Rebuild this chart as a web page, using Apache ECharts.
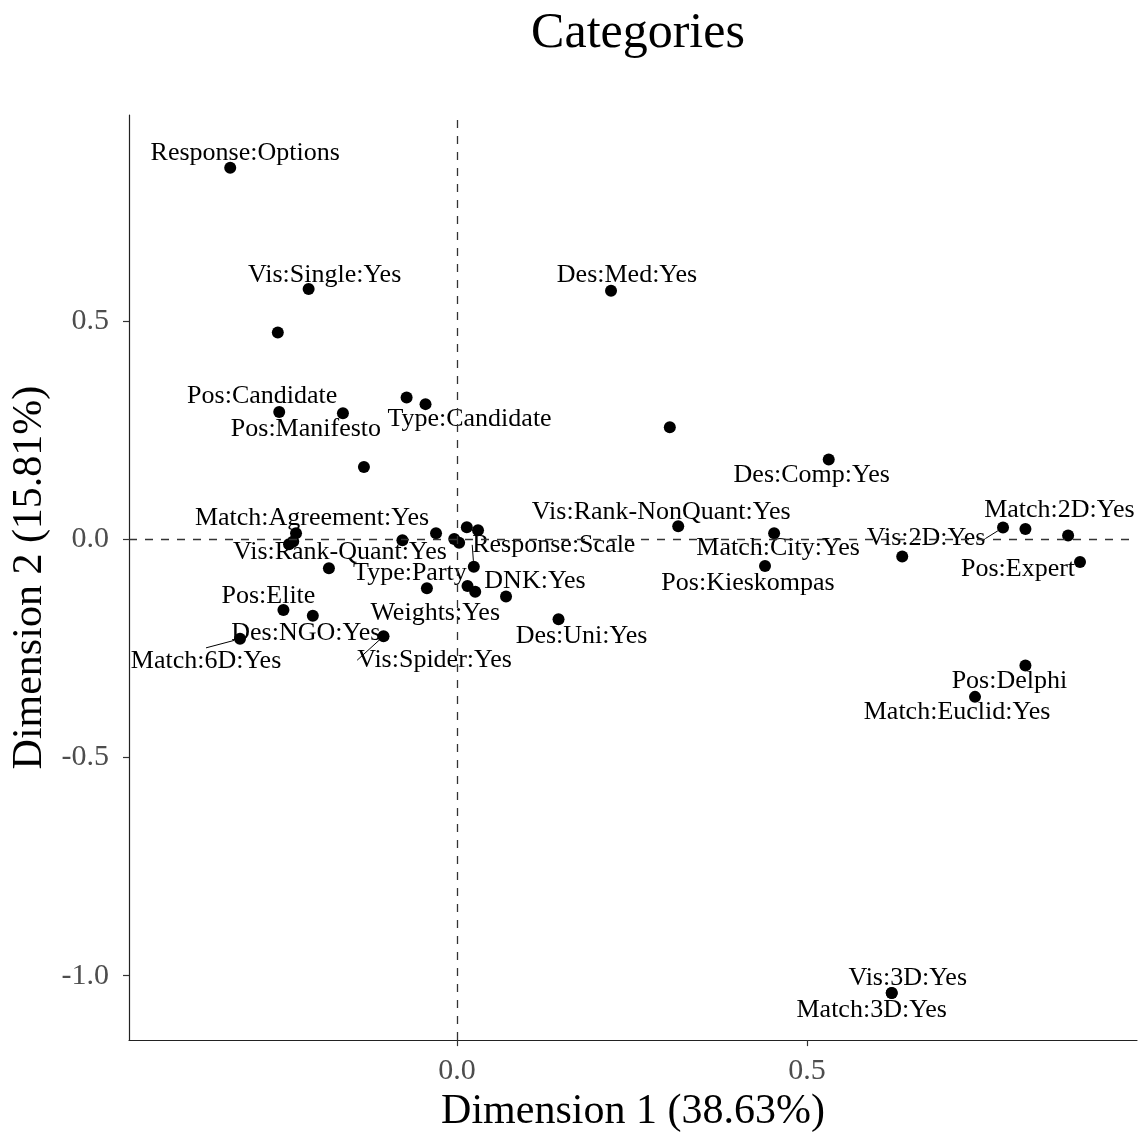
<!DOCTYPE html>
<html>
<head>
<meta charset="utf-8">
<script src="https://cdn.jsdelivr.net/npm/echarts@6/dist/echarts.min.js"></script>
<style>html,body{margin:0;padding:0;background:#fff;overflow:hidden}#c{width:1140px;height:1138px}</style>
</head>
<body>
<div id="c"></div>
<script>
// ---- data ----
const names = [
  "Response:Options","Vis:Single:Yes","","Des:Med:Yes","Pos:Candidate","Pos:Manifesto","","Type:Candidate","","",
  "Des:Comp:Yes","Vis:Rank-NonQuant:Yes","Match:City:Yes","Pos:Kieskompas","","Vis:2D:Yes","Match:2D:Yes","","Pos:Expert","Pos:Delphi",
  "Match:Euclid:Yes","Vis:3D:Yes","Match:3D:Yes","Match:Agreement:Yes","","","","","","",
  "","","Response:Scale","Type:Party","","Weights:Yes","DNK:Yes","Des:Uni:Yes","Vis:Rank-Quant:Yes","Pos:Elite",
  "Des:NGO:Yes","Vis:Spider:Yes","Match:6D:Yes"
];
const dim1 = [
  -0.324,-0.212,-0.256,0.220,-0.254,-0.163,-0.072,-0.045,-0.133,0.304,
  0.531,0.316,0.453,0.440,0.636,0.780,0.812,0.873,0.890,0.812,
  0.740,0.621,0.621,-0.230,-0.240,-0.234,-0.078,-0.030,-0.004,0.003,
  0.014,0.030,0.024,-0.043,0.015,0.026,0.070,0.145,-0.183,-0.248,
  -0.206,-0.105,-0.310
];
const dim2 = [
  0.852,0.574,0.474,0.570,0.292,0.289,0.325,0.310,0.166,0.257,
  0.183,0.030,0.014,-0.061,-0.039,0.027,0.024,0.009,-0.052,-0.289,
  -0.361,-1.040,-1.040,0.014,-0.011,-0.005,-0.002,0.014,0.001,-0.008,
  0.028,0.021,-0.063,-0.112,-0.107,-0.120,-0.131,-0.183,-0.066,-0.162,
  -0.175,-0.222,-0.228
];
const xTicks = [0, 0.5];
const yTicks = [-1, -0.5, 0, 0.5];
const titleText = "Categories";
const xTitle = "Dimension 1 (38.63%)";
const yTitle = "Dimension 2 (15.81%)";

// ---- label placement (pixel offsets from point to label centre) ----
const labelOffsets = {
  "Response:Options":[15,-14], "Vis:Single:Yes":[16,-14], "Des:Med:Yes":[16,-16],
  "Pos:Candidate":[-17,-16], "Pos:Manifesto":[-37,16], "Type:Candidate":[44,15],
  "Des:Comp:Yes":[-17,16], "Match:Agreement:Yes":[16,-15], "Vis:Rank-NonQuant:Yes":[-17,-14],
  "Match:City:Yes":[4,15], "Vis:2D:Yes":[-77,11], "Match:2D:Yes":[34,-19],
  "Vis:Rank-Quant:Yes":[11,-16], "Response:Scale":[80,-22], "Type:Party":[-17,-15],
  "DNK:Yes":[29,-15], "Weights:Yes":[-40,21], "Pos:Kieskompas":[-17,17],
  "Pos:Expert":[-62,7], "Pos:Elite":[-15,-14], "Des:Uni:Yes":[23,17],
  "Des:NGO:Yes":[-7,17], "Match:6D:Yes":[-34,22], "Vis:Spider:Yes":[51,24],
  "Pos:Delphi":[-16,16], "Match:Euclid:Yes":[-18,15], "Vis:3D:Yes":[16,-15], "Match:3D:Yes":[-20,17]
};
const withSegment = ["Vis:2D:Yes","Match:6D:Yes","Vis:Spider:Yes","Response:Scale"];

const serif = "Liberation Serif";
const data = names.map((n, i) => ({
  name: n,
  value: [dim1[i], dim2[i]],
  label: { show: n !== "" },
  labelLine: { show: withSegment.includes(n), lineStyle: { color: "#000", width: 1 } }
}));

const chart = echarts.init(document.getElementById("c"), null, { renderer: "canvas", width: 1140, height: 1138 });
chart.setOption({
  backgroundColor: "#fff",
  animation: false,
  title: {
    text: titleText, left: 633, top: 4, textAlign: "center",
    textStyle: { fontFamily: serif, fontSize: 50, fontWeight: "normal", color: "#000" }
  },
  grid: { left: 129, width: 1008, top: 115, height: 933, containLabel: false },
  xAxis: {
    type: "value", min: -0.4686, max: 0.9714,
    name: xTitle, nameLocation: "middle", nameGap: 48,
    nameTextStyle: { fontFamily: serif, fontSize: 42, color: "#000" },
    splitLine: { show: false },
    axisLine: { show: true, onZero: false, lineStyle: { color: "#222", width: 1.2 } },
    axisTick: { show: true, length: 6, customValues: xTicks, lineStyle: { color: "#333", width: 1.2 } },
    axisLabel: { customValues: xTicks, margin: 16, fontFamily: serif, fontSize: 30, color: "#4d4d4d",
      formatter: v => v.toFixed(1) }
  },
  yAxis: {
    type: "value", min: -1.1477, max: 0.9727,
    name: yTitle, nameLocation: "middle", nameGap: 78, nameRotate: 90,
    nameTextStyle: { fontFamily: serif, fontSize: 42, color: "#000" },
    splitLine: { show: false },
    axisLine: { show: true, onZero: false, lineStyle: { color: "#222", width: 1.2 } },
    axisTick: { show: true, length: 6, customValues: yTicks, lineStyle: { color: "#333", width: 1.2 } },
    axisLabel: { customValues: yTicks, margin: 20, fontFamily: serif, fontSize: 30, color: "#4d4d4d",
      formatter: v => v.toFixed(1) }
  },
  series: [{
    type: "scatter",
    symbol: "circle",
    symbolSize: 12,
    itemStyle: { color: "#000", opacity: 1 },
    data: data,
    label: {
      position: "inside",
      formatter: p => p.name,
      fontFamily: serif, fontSize: 26, color: "#000"
    },
    labelLayout: function (p) {
      const o = labelOffsets[names[p.dataIndex]];
      return o ? { dx: o[0], dy: o[1] } : {};
    },
    markLine: {
      silent: true, symbol: "none", label: { show: false },
      lineStyle: { type: [8, 8], color: "#333", width: 1.3 },
      data: [{ xAxis: 0 }, { yAxis: 0 }]
    },
    z: 3
  }]
});
</script>
</body>
</html>
